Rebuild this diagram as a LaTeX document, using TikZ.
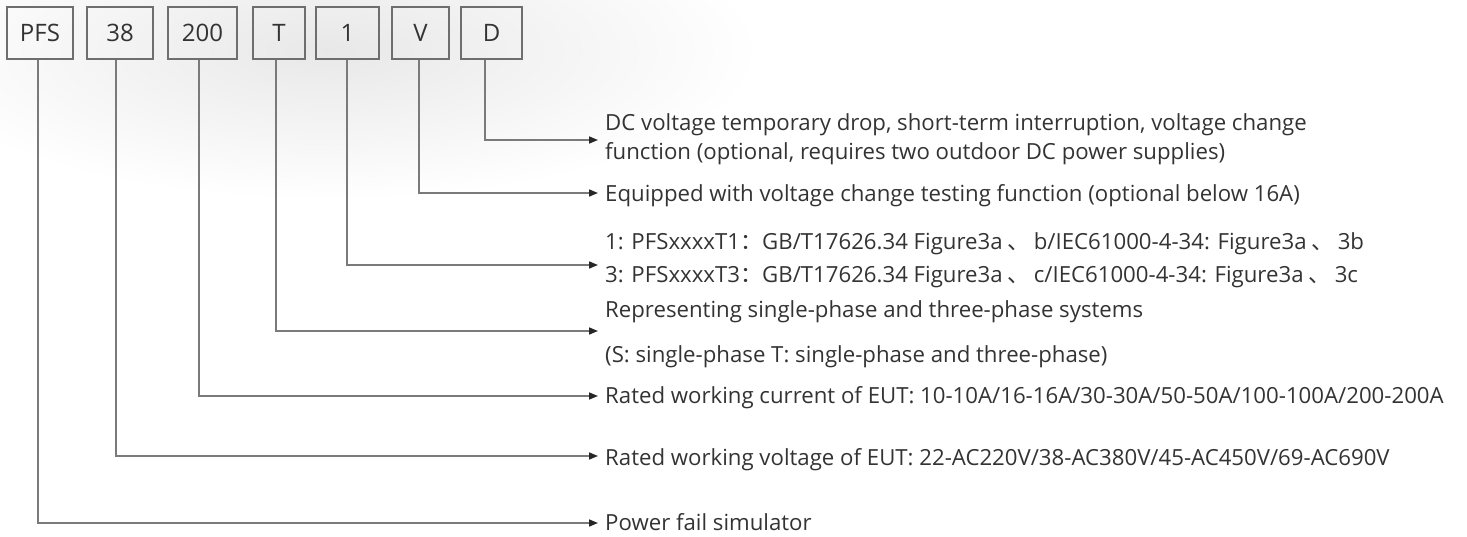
\documentclass[tikz,border=0pt]{standalone}
\usepackage{fontspec}
\setmainfont{Open Sans}
\newfontfamily\cjk{Noto Sans CJK SC}
\usetikzlibrary{arrows.meta}
\definecolor{txt}{HTML}{333333}
\definecolor{linegray}{HTML}{7A7A7A}
\definecolor{boxgray}{HTML}{6E6E6E}
\newcommand{\dunhao}{\hspace{5pt}{\cjk 、}\hspace{4pt}}
\begin{document}
\begin{tikzpicture}[x=1pt,y=-1pt,
  codebox/.style={draw=boxgray, line width=1.6pt, minimum height=52pt, inner sep=0pt,
    font=\fontsize{24}{28}\selectfont, text=txt},
  desc/.style={anchor=base west, inner sep=0pt, font=\fontsize{22.2}{26}\selectfont, text=txt},
  conn/.style={draw=linegray, line width=1.6pt, rounded corners=0pt,
    -{Triangle[length=9pt,width=7pt,color=black!85]}},
]
\useasboundingbox (0,0) rectangle (1467,537);
\shade[inner color=black!9, outer color=white, draw=none] (330,50) ellipse (430 and 150);

% code boxes
\node[codebox, minimum width=66pt] (b1) at (40,33) {PFS};
\node[codebox, minimum width=66pt] (b2) at (120,33) {38};
\node[codebox, minimum width=69pt] (b3) at (202.5,33) {200};
\node[codebox, minimum width=52pt] (b4) at (279,33) {T};
\node[codebox, minimum width=63pt] (b5) at (347.5,33) {1};
\node[codebox, minimum width=57pt] (b6) at (420.5,33) {V};
\node[codebox, minimum width=61pt] (b7) at (491.5,33) {D};

% arrow end points
\coordinate (a7) at (598,140);
\coordinate (a6) at (598,193);
\coordinate (a5) at (598,265);
\coordinate (a4) at (598,331);
\coordinate (a3) at (598,396);
\coordinate (a2) at (598,456);
\coordinate (a1) at (598,523);

% descriptions
\node[desc] (t7a) at (605,131) {DC voltage temporary drop, short-term interruption, voltage change};
\node[desc] (t7b) at (605,160) {function (optional, requires two outdoor DC power supplies)};
\node[desc] (t6) at (605,202) {Equipped with voltage change testing function (optional below 16A)};
\node[desc] (t5a) at (605,250) {1: PFSxxxxT1{\cjk ：}GB/T17626.34 Figure3a\dunhao b/IEC61000-4-34: Figure3a\dunhao 3b};
\node[desc] (t5b) at (605,283) {3: PFSxxxxT3{\cjk ：}GB/T17626.34 Figure3a\dunhao c/IEC61000-4-34: Figure3a\dunhao 3c};
\node[desc] (t4a) at (605,318) {Representing single-phase and three-phase systems};
\node[desc] (t4b) at (605,362) {(S: single-phase T: single-phase and three-phase)};
\node[desc] (t3) at (605,403) {Rated working current of EUT: 10-10A/16-16A/30-30A/50-50A/100-100A/200-200A};
\node[desc] (t2) at (605,465) {Rated working voltage of EUT: 22-AC220V/38-AC380V/45-AC450V/69-AC690V};
\node[desc] (t1) at (605,530) {Power fail simulator};

% connectors
\draw[conn] ([xshift=-2pt]b1.south) |- (a1);
\draw[conn] ([xshift=-4pt]b2.south) |- (a2);
\draw[conn] ([xshift=-3.5pt]b3.south) |- (a3);
\draw[conn] ([xshift=-3pt]b4.south) |- (a4);
\draw[conn] ([xshift=-0.5pt]b5.south) |- (a5);
\draw[conn] ([xshift=-1.5pt]b6.south) |- (a6);
\draw[conn] ([xshift=-6.5pt]b7.south) |- (a7);
\end{tikzpicture}
\end{document}
